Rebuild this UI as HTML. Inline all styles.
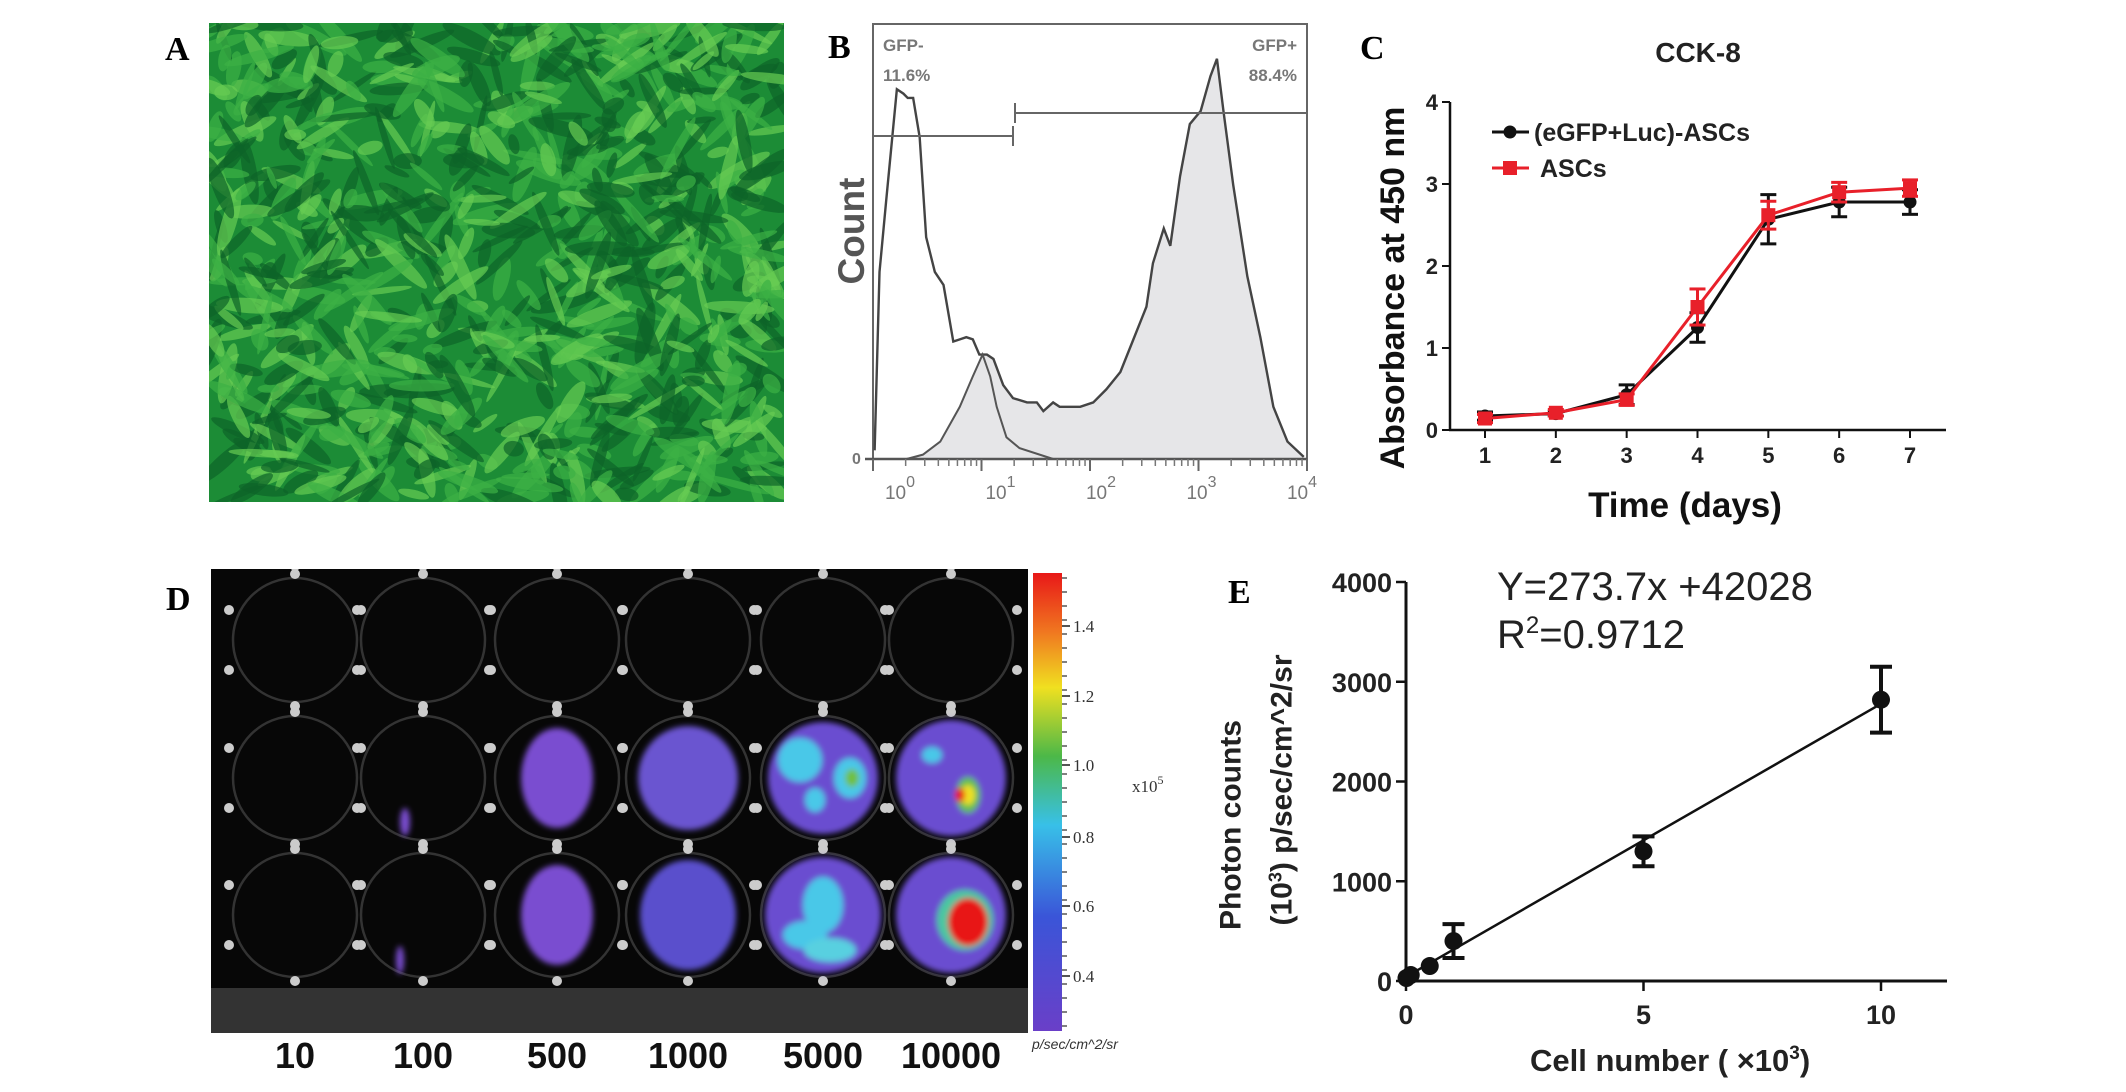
<!DOCTYPE html>
<html><head><meta charset="utf-8"><title>ASC figure</title>
<style>
html,body{margin:0;padding:0;background:#fff;}
svg{display:block;font-family:"Liberation Sans",Arial,sans-serif;}
.plabel{font-family:"Liberation Serif",serif;font-weight:bold;font-size:34px;fill:#000;}
</style></head>
<body>
<svg id="fig" width="2126" height="1092" viewBox="0 0 2126 1092" xmlns="http://www.w3.org/2000/svg">
<rect width="2126" height="1092" fill="#fff"/>

<text class="plabel" x="165" y="60">A</text>
<g id="panelA">
  <defs><clipPath id="clipA"><rect x="209" y="23" width="575" height="479"/></clipPath></defs>
  <rect x="209" y="23" width="575" height="479" fill="#1c8c36"/>
  <g id="streaks" clip-path="url(#clipA)"></g>
</g>

<text class="plabel" x="828" y="58">B</text>
<g id="panelB"></g>

<text class="plabel" x="1360" y="59">C</text>
<g id="panelC"></g>

<text class="plabel" x="166" y="610">D</text>
<g id="panelD">
  <defs>
    <clipPath id="clipD"><rect x="211" y="569" width="817" height="464"/></clipPath>
    <linearGradient id="cbar" x1="0" y1="1" x2="0" y2="0">
      <stop offset="0" stop-color="#6a3fc8"/>
      <stop offset="0.25" stop-color="#3a55d8"/>
      <stop offset="0.45" stop-color="#38c0e8"/>
      <stop offset="0.6" stop-color="#4cb848"/>
      <stop offset="0.75" stop-color="#f0e020"/>
      <stop offset="0.87" stop-color="#f07820"/>
      <stop offset="1" stop-color="#e81818"/>
    </linearGradient>
    <filter id="blurD"><feGaussianBlur stdDeviation="3"/></filter>
  </defs>
  <rect x="211" y="569" width="817" height="464" fill="#070707"/>
  <g id="wells" clip-path="url(#clipD)"></g>
  <rect x="1033" y="573" width="29" height="458" fill="url(#cbar)"/>
  <g id="cbarTicks"></g>
  <text x="1132" y="792" font-size="17" font-family="Liberation Serif,serif" fill="#333">x10<tspan dy="-8" font-size="12">5</tspan></text>
  <text x="1032" y="1049" font-size="14" font-style="italic" fill="#333">p/sec/cm^2/sr</text>
  <g id="wellLabels"></g>
</g>

<text class="plabel" x="1228" y="603">E</text>
<g id="panelE"></g>
</svg>

<script>
const NS="http://www.w3.org/2000/svg";
function mk(parent,tag,attrs,text){const e=document.createElementNS(NS,tag);for(const k in attrs)e.setAttribute(k,attrs[k]);if(text!==undefined)e.textContent=text;parent.appendChild(e);return e;}

// ---------- Panel B data (log10 fluorescence, % of max count) ----------
const bOutlineLog=[0.015,0.06,0.12,0.22,0.28,0.32,0.37,0.43,0.49,0.57,0.65,0.74,0.80,0.86,0.92,0.98,1.05,1.11,1.20,1.29,1.42,1.51,1.57,1.66,1.72,1.91,2.03,2.15,2.28,2.40,2.52,2.58,2.68,2.74,2.83,2.92,3.02,3.11,3.17,3.23,3.32,3.45,3.57,3.69,3.82,3.97];
const bOutlineCount=[2,43,59,85,84,83,83,74,51,43,40,27,27.5,28,27.5,24,24,23,17,14,13,13,11,13,12,12,13,16,20,27.5,35,45,53,49,65,77,80,88,92,80,63,42,28,12,4,0.5];
const bHumpLog=[0.31,0.46,0.62,0.80,0.92,1.01,1.08,1.14,1.23,1.35,1.66];
const bHumpCount=[0,1,4,12,19,24,19,12,5,2.5,0];
const bDecades=[0,1,2,3,4];

(function(){
  const g=document.getElementById('panelB');
  const x0=873,x1=1307,yTop=24,yBase=459;
  const X=l=>x0+(x1-x0)*l/4, Y=c=>yBase-(yBase-yTop)*c/100;
  let fpts=[];
  for(let i=0;i<bHumpLog.length;i++){ if(bHumpLog[i]<=1.02) fpts.push([X(bHumpLog[i]),Y(bHumpCount[i])]); }
  for(let i=0;i<bOutlineLog.length;i++){ if(bOutlineLog[i]>1.02) fpts.push([X(bOutlineLog[i]),Y(bOutlineCount[i])]); }
  fpts.push([X(bOutlineLog[bOutlineLog.length-1]),yBase]);fpts.unshift([X(bHumpLog[0]),yBase]);
  const fill=mk(g,'polygon',{points:fpts.map(p=>p.join(',')).join(' '),fill:'#e6e6e8'});
  
  
  const box=mk(g,'rect',{x:x0,y:yTop,width:x1-x0,height:yBase-yTop,fill:'none',stroke:'#666','stroke-width':2});
  
  
  const o=mk(g,'polyline',{points:bOutlineLog.map((l,i)=>X(l)+','+Y(bOutlineCount[i])).join(' '),fill:'none',stroke:'#444','stroke-width':2.4});
  
  
  const h=mk(g,'polyline',{points:bHumpLog.map((l,i)=>X(l)+','+Y(bHumpCount[i])).join(' '),fill:'none',stroke:'#555','stroke-width':2});
  
  
  mk(g,'line',{x1:x0,y1:136,x2:1013,y2:136,stroke:'#666','stroke-width':2});
  mk(g,'line',{x1:1013,y1:126,x2:1013,y2:146,stroke:'#666','stroke-width':2});
  mk(g,'line',{x1:1015,y1:113,x2:x1,y2:113,stroke:'#666','stroke-width':2});
  mk(g,'line',{x1:1015,y1:103,x2:1015,y2:123,stroke:'#666','stroke-width':2});
  const t1=mk(g,'text',{x:883,y:51,'font-size':17,'font-weight':'bold',fill:'#777'},'GFP-');
  
  
  const t2=mk(g,'text',{x:883,y:81,'font-size':17,'font-weight':'bold',fill:'#777'},'11.6%');
  
  
  const t3=mk(g,'text',{x:1297,y:51,'font-size':17,'font-weight':'bold',fill:'#777','text-anchor':'end'},'GFP+');
  
  
  const t4=mk(g,'text',{x:1297,y:81,'font-size':17,'font-weight':'bold',fill:'#777','text-anchor':'end'},'88.4%');
  
  
  mk(g,'line',{x1:x0-8,y1:yBase,x2:x1,y2:yBase,stroke:'#555','stroke-width':2.5});
  mk(g,'text',{x:852,y:464,'font-size':16,'font-weight':'bold',fill:'#777'},'0');
  bDecades.forEach(d=>{
    mk(g,'line',{x1:X(d),y1:yBase,x2:X(d),y2:yBase+12,stroke:'#666','stroke-width':2});
    if(d<4){for(let k=2;k<10;k++){const xx=X(d+Math.log10(k));mk(g,'line',{x1:xx,y1:yBase,x2:xx,y2:yBase+7,stroke:'#777','stroke-width':1.5});}}
    const lt=mk(g,'text',{x:900+100.5*d,y:499,'font-size':19,fill:'#777','text-anchor':'middle'});
    
    
    lt.appendChild(document.createTextNode('10'));
    mk(lt,'tspan',{dy:-12,'font-size':16},String(d));
  });
  const c=mk(g,'text',{x:851,y:231,'font-size':37,'font-weight':'bold',fill:'#555','text-anchor':'middle',transform:'rotate(-90 851 231)',dy:'0.35em'},'Count');
  
  
})();

// ---------- Panel C data ----------
const cDays=[1,2,3,4,5,6,7];
const cGfpLuc=[0.17,0.2,0.43,1.25,2.57,2.78,2.78];
const cGfpLucErr=[0.05,0.03,0.12,0.18,0.3,0.18,0.15];
const cAsc=[0.14,0.21,0.37,1.5,2.62,2.9,2.95];
const cAscErr=[0.05,0.04,0.07,0.22,0.17,0.12,0.1];
const cYTicks=[0,1,2,3,4];

(function(){
  const g=document.getElementById('panelC');
  const X=d=>1485+(1910-1485)*(d-1)/6, Y=v=>430-v*82;
  mk(g,'line',{x1:1450,y1:Y(4),x2:1450,y2:431,stroke:'#111','stroke-width':2.5});
  mk(g,'line',{x1:1449,y1:430,x2:1946,y2:430,stroke:'#111','stroke-width':2.5});
  cYTicks.forEach(v=>{
    mk(g,'line',{x1:1442,y1:Y(v),x2:1450,y2:Y(v),stroke:'#111','stroke-width':2});
    const t=mk(g,'text',{x:1438,y:Y(v)+8,'font-size':22,'font-weight':'bold','text-anchor':'end',fill:'#222'},String(v));
    
    
  });
  cDays.forEach(d=>{
    mk(g,'line',{x1:X(d),y1:430,x2:X(d),y2:438,stroke:'#111','stroke-width':2});
    const t=mk(g,'text',{x:X(d),y:463,'font-size':22,'font-weight':'bold','text-anchor':'middle',fill:'#222'},String(d));
    
    
  });
  function series(vals,errs,color,name,square){
    const sg=mk(g,'g',{});
    
    
    vals.forEach((v,i)=>{
      const x=X(cDays[i]);
      mk(sg,'line',{x1:x,y1:Y(v-errs[i]),x2:x,y2:Y(v+errs[i]),stroke:color,'stroke-width':3});
      mk(sg,'line',{x1:x-8,y1:Y(v-errs[i]),x2:x+8,y2:Y(v-errs[i]),stroke:color,'stroke-width':3});
      mk(sg,'line',{x1:x-8,y1:Y(v+errs[i]),x2:x+8,y2:Y(v+errs[i]),stroke:color,'stroke-width':3});
    });
    mk(sg,'polyline',{points:vals.map((v,i)=>X(cDays[i])+','+Y(v)).join(' '),fill:'none',stroke:color,'stroke-width':3});
    vals.forEach((v,i)=>{
      const x=X(cDays[i]);
      const m=square?mk(sg,'rect',{x:x-7,y:Y(v)-7,width:14,height:14,fill:color}):mk(sg,'circle',{cx:x,cy:Y(v),r:6.5,fill:color});
      
      
    });
  }
  series(cGfpLuc,cGfpLucErr,'#111','series-egfp-luc-ascs',false);
  series(cAsc,cAscErr,'#e8202a','series-ascs',true);
  const lg=mk(g,'g',{});
  
  
  mk(lg,'line',{x1:1492,y1:132,x2:1529,y2:132,stroke:'#111','stroke-width':3});
  mk(lg,'circle',{cx:1510,cy:132,r:6.5,fill:'#111'});
  const l1=mk(lg,'text',{x:1534,y:141,'font-size':25,'font-weight':'bold',fill:'#222'},'(eGFP+Luc)-ASCs');
  
  
  mk(lg,'line',{x1:1492,y1:168,x2:1529,y2:168,stroke:'#e8202a','stroke-width':3});
  mk(lg,'rect',{x:1503,y:161,width:14,height:14,fill:'#e8202a'});
  const l2=mk(lg,'text',{x:1540,y:177,'font-size':25,'font-weight':'bold',fill:'#222'},'ASCs');
  
  
  const tt=mk(g,'text',{x:1698,y:62,'font-size':28,'font-weight':'bold','text-anchor':'middle',fill:'#222'},'CCK-8');
  
  
  const xt=mk(g,'text',{x:1685,y:517,'font-size':35,'font-weight':'bold','text-anchor':'middle',fill:'#111'},'Time (days)');
  
  
  const yt=mk(g,'text',{x:1392,y:288,'font-size':34,'font-weight':'bold','text-anchor':'middle',fill:'#111',transform:'rotate(-90 1392 288)',dy:'0.35em'},'Absorbance at 450 nm');
  
  
})();

// ---------- Panel E data ----------
const eCells=[0.01,0.1,0.5,1,5,10];
const ePhoton=[30,60,150,400,1300,2820];
const eErr=[10,15,20,170,150,330];
const eSlope=273.7, eIntercept=42.028;
const eYTicks=[0,1000,2000,3000,4000];
const eXTicks=[0,5,10];

(function(){
  const g=document.getElementById('panelE');
  const X=v=>1406+47.5*v, Y=v=>981-v*399/4000;
  mk(g,'line',{x1:1406,y1:582,x2:1406,y2:982,stroke:'#111','stroke-width':3});
  mk(g,'line',{x1:1405,y1:981,x2:1947,y2:981,stroke:'#111','stroke-width':3});
  eYTicks.forEach(v=>{
    mk(g,'line',{x1:1396,y1:Y(v),x2:1406,y2:Y(v),stroke:'#111','stroke-width':2.5});
    const t=mk(g,'text',{x:1392,y:Y(v)+10,'font-size':27,'font-weight':'bold','text-anchor':'end',fill:'#222'},String(v));
    
    
  });
  eXTicks.forEach(v=>{
    mk(g,'line',{x1:X(v),y1:981,x2:X(v),y2:991,stroke:'#111','stroke-width':2.5});
    const t=mk(g,'text',{x:X(v),y:1024,'font-size':27,'font-weight':'bold','text-anchor':'middle',fill:'#222'},String(v));
    
    
  });
  const fit=mk(g,'line',{x1:X(0),y1:Y(eIntercept),x2:X(10),y2:Y(eSlope*10+eIntercept),stroke:'#111','stroke-width':2.5});
  
  
  ePhoton.forEach((v,i)=>{
    const x=X(eCells[i]);
    if(eErr[i]>40){
      mk(g,'line',{x1:x,y1:Y(v-eErr[i]),x2:x,y2:Y(v+eErr[i]),stroke:'#111','stroke-width':4});
      mk(g,'line',{x1:x-11,y1:Y(v-eErr[i]),x2:x+11,y2:Y(v-eErr[i]),stroke:'#111','stroke-width':4});
      mk(g,'line',{x1:x-11,y1:Y(v+eErr[i]),x2:x+11,y2:Y(v+eErr[i]),stroke:'#111','stroke-width':4});
    }
    const p=mk(g,'circle',{cx:x,cy:Y(v),r:9,fill:'#111'});
    
    
  });
  const eq=mk(g,'text',{x:1497,y:600,'font-size':40,fill:'#222'},'Y=273.7x +42028');
  
  
  const r2=mk(g,'text',{x:1497,y:648,'font-size':40,fill:'#222'});
  
  
  r2.appendChild(document.createTextNode('R'));
  mk(r2,'tspan',{dy:-15,'font-size':24},'2');
  mk(r2,'tspan',{dy:15},'=0.9712');
  const y1=mk(g,'text',{x:1230,y:825,'font-size':30,'font-weight':'bold','text-anchor':'middle',fill:'#222',transform:'rotate(-90 1230 825)',dy:'0.35em'},'Photon counts');
  
  
  const y2=mk(g,'text',{x:1281,y:790,'font-size':30,'font-weight':'bold','text-anchor':'middle',fill:'#222',transform:'rotate(-90 1281 790)',dy:'0.35em'});
  
  
  y2.appendChild(document.createTextNode('(10'));
  mk(y2,'tspan',{dy:-10,'font-size':18},'3');
  mk(y2,'tspan',{dy:10},') p/sec/cm^2/sr');
  const xt=mk(g,'text',{x:1530,y:1071,'font-size':31,'font-weight':'bold',fill:'#222'});
  
  
  xt.appendChild(document.createTextNode('Cell number ( ×10'));
  mk(xt,'tspan',{dy:-12,'font-size':19},'3');
  mk(xt,'tspan',{dy:12},')');
})();

// ---------- Panel A texture (decorative) ----------
(function(){
  const g=document.getElementById('streaks');
  let s=12345;const r=()=>{s=(s*1103515245+12345)%2147483648;return s/2147483648;};
  for(let i=0;i<900;i++){
    const x=209+r()*575,y=23+r()*479,len=10+r()*26,w=3+r()*5,a=-80+r()*160;
    const q=r();
    const c=q<0.4?'#0d6428':(q<0.75?'#3cb044':'#66cc52');
    mk(g,'ellipse',{cx:x,cy:y,rx:len,ry:w,fill:c,opacity:0.7,transform:`rotate(${a} ${x} ${y})`});
  }
})();

// ---------- Panel D image (decorative wells) ----------
const dLabels=['10','100','500','1000','5000','10000'];
(function(){
  const g=document.getElementById('wells');
  const cols=[295,423,557,688,823,951], rows=[500,640,778,915];
  rows.forEach(y=>cols.forEach(x=>{
    mk(g,'circle',{cx:x,cy:y,r:62,fill:'none',stroke:'#333','stroke-width':2.5});
    [[-66,-30],[66,-30],[-66,30],[66,30],[0,-66],[0,66]].forEach(o=>mk(g,'circle',{cx:x+o[0],cy:y+o[1],r:5,fill:'#ccc'}));
  }));
  mk(g,'rect',{x:211,y:988,width:817,height:45,fill:'#333'});
  const bg=mk(g,'g',{filter:'url(#blurD)'});
  function blob(x,y,rx,ry,c){mk(bg,'ellipse',{cx:x,cy:y,rx:rx,ry:ry,fill:c});}
  blob(557,778,36,50,'#7a4ed0');blob(557,915,36,50,'#7a4ed0');
  blob(688,778,50,52,'#6a55d0');blob(688,915,48,55,'#5a50cc');
  blob(823,778,55,56,'#6a4ed0');blob(823,915,58,58,'#6a4ed0');
  blob(951,778,55,58,'#6a4ed0');blob(951,915,55,58,'#6a4ed0');
  blob(800,760,22,22,'#48c8e8');blob(850,778,16,20,'#48c8e8');blob(852,778,7,9,'#70c040');
  blob(815,800,10,12,'#48c8e8');
  blob(823,905,20,28,'#48c8e8');blob(805,935,22,14,'#48c8e8');blob(830,950,26,12,'#58d0e0');
  blob(932,755,10,8,'#48c8e8');blob(968,795,12,18,'#60c050');blob(968,795,7,10,'#f0e020');blob(960,795,5,7,'#e81818');
  blob(965,920,28,30,'#48c8a0');blob(968,922,20,24,'#e81818');
  blob(405,822,5,14,'#7a4ed0');blob(400,960,4,14,'#7a4ed0');
  const lg=document.getElementById('wellLabels');
  dLabels.forEach((t,i)=>{
    const e=mk(lg,'text',{x:cols[i],y:1068,'font-size':36,'font-weight':'bold','text-anchor':'middle',fill:'#111'},t);
    
    
  });
  const tg=document.getElementById('cbarTicks');
  const cbVals=['1.4','1.2','1.0','0.8','0.6','0.4'], cbY=[626,696,765,837,906,976];
  for(let y=578;y<1030;y+=14) mk(tg,'line',{x1:1062,y1:y,x2:1067,y2:y,stroke:'#555','stroke-width':1.5});
  cbVals.forEach((v,i)=>{
    mk(tg,'line',{x1:1062,y1:cbY[i],x2:1070,y2:cbY[i],stroke:'#555','stroke-width':2});
    const e=mk(tg,'text',{x:1073,y:cbY[i]+6,'font-size':17,'font-family':'Liberation Serif,serif',fill:'#333'},v);
    
    
  });
})();
</script>
</body></html>
